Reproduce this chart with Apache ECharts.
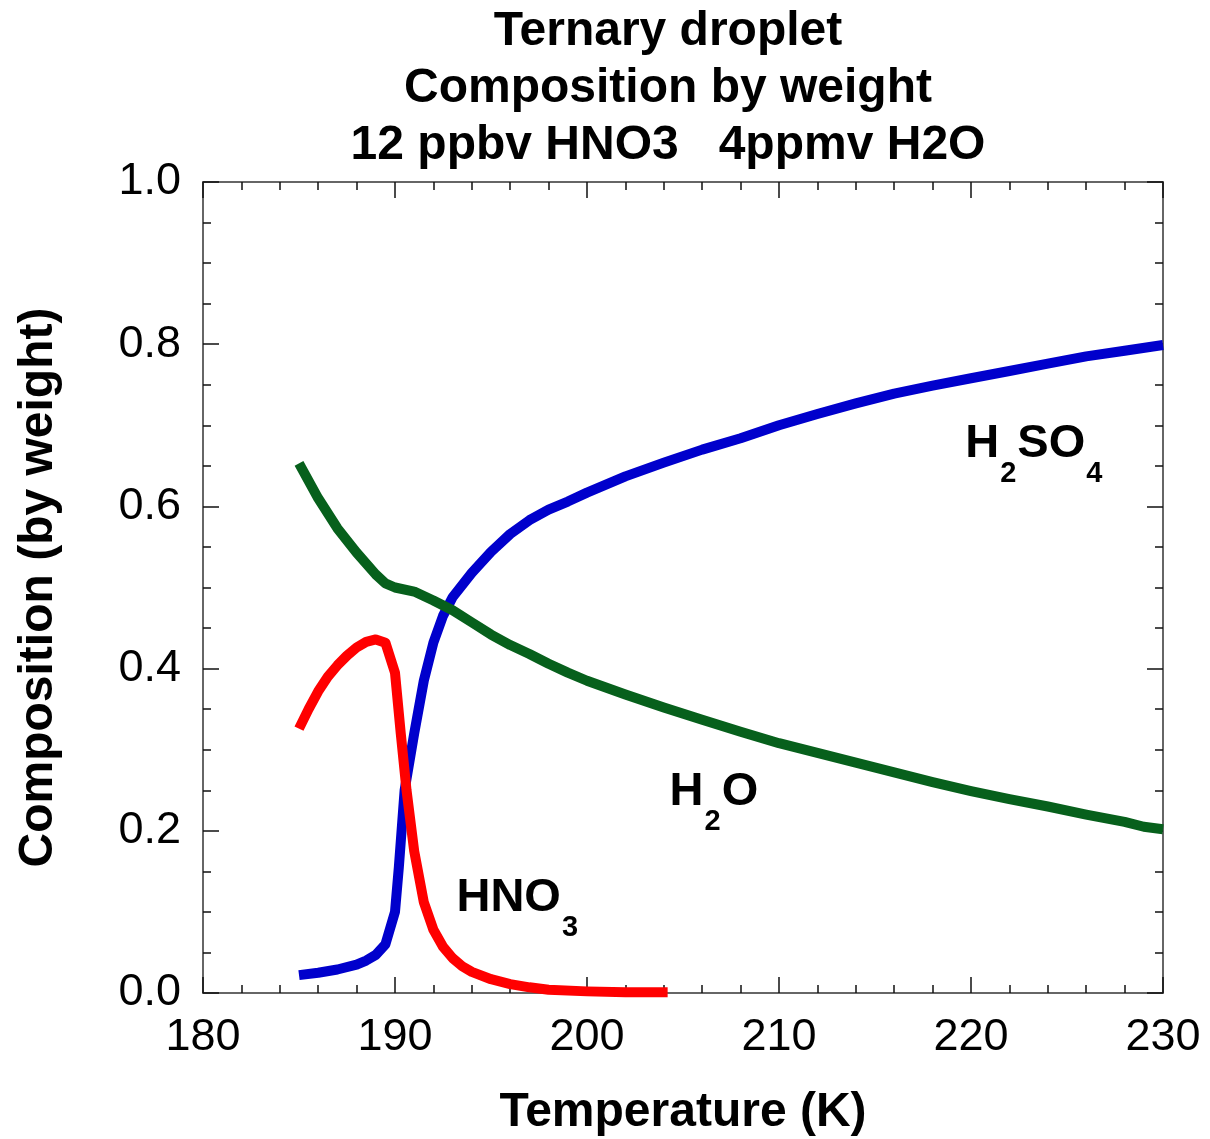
<!DOCTYPE html>
<html>
<head>
<meta charset="utf-8">
<title>Ternary droplet</title>
<script src="https://cdn.jsdelivr.net/npm/echarts@6.0.0/dist/echarts.min.js"></script>
<style>
  html, body { margin: 0; padding: 0; background: #fff; }
  #chart { width: 1210px; height: 1139px; }
</style>
</head>
<body>
<div id="chart"></div>
<script>
// values: temperature (K) -> weight fraction
var tempH2SO4 = [185, 186, 187, 188, 188.5, 189, 189.5, 190, 190.2, 190.5, 191, 191.5, 192, 192.5, 193,
  194, 195, 196, 197, 198, 199, 200, 202, 204, 206, 208, 210, 212, 214, 216, 218, 220, 222, 224, 226, 228, 230];
var h2so4 = [0.022, 0.025, 0.029, 0.035, 0.040, 0.047, 0.060, 0.100, 0.155, 0.250, 0.320, 0.385, 0.432, 0.465, 0.488,
  0.518, 0.544, 0.566, 0.583, 0.596, 0.606, 0.617, 0.637, 0.654, 0.670, 0.684, 0.700, 0.714, 0.727, 0.739, 0.749,
  0.758, 0.767, 0.776, 0.785, 0.792, 0.799];

var tempH2O = [185, 186, 187, 188, 189, 189.5, 190, 191, 192, 193, 194, 195, 196, 197, 198, 199, 200,
  202, 204, 206, 208, 210, 212, 214, 216, 218, 220, 222, 224, 226, 228, 229, 230];
var h2o = [0.653, 0.610, 0.573, 0.543, 0.516, 0.505, 0.500, 0.495, 0.484, 0.472, 0.457, 0.442, 0.429, 0.418, 0.406,
  0.395, 0.385, 0.368, 0.352, 0.337, 0.322, 0.308, 0.296, 0.284, 0.272, 0.260, 0.249, 0.239, 0.230, 0.220, 0.211,
  0.205, 0.202];

var tempHNO3 = [185, 185.5, 186, 186.5, 187, 187.5, 188, 188.5, 189, 189.5, 190, 190.3, 190.6, 191, 191.5, 192,
  192.5, 193, 193.5, 194, 195, 196, 197, 198, 200, 202, 204.2];
var hno3 = [0.326, 0.350, 0.372, 0.390, 0.404, 0.416, 0.426, 0.433, 0.436, 0.432, 0.395, 0.320, 0.250, 0.175,
  0.112, 0.078, 0.057, 0.043, 0.033, 0.026, 0.017, 0.011, 0.007, 0.004, 0.002, 0.001, 0.001];

var xRange = [180, 230];
var yRange = [0, 1];

var FONT = "'Liberation Sans', Arial, Helvetica, sans-serif";

function pairs(xs, ys) {
  return xs.map(function (x, i) { return [x, ys[i]]; });
}

// one frame side: ticks point inwards, labels only on bottom / left
function frameAxis(pos, range, step, minorSplit, labelled) {
  return {
    type: 'value',
    position: pos,
    min: range[0],
    max: range[1],
    interval: step,
    axisLine: { show: true, onZero: false, lineStyle: { color: '#666', width: 2 } },
    axisTick: { show: true, inside: true, length: 16, lineStyle: { color: '#111', width: 1.5 } },
    minorTick: { show: true, splitNumber: minorSplit, length: 8, lineStyle: { color: '#111', width: 1.5 } },
    splitLine: { show: false },
    axisLabel: { show: labelled }
  };
}

var chart = echarts.init(document.getElementById('chart'));

var xBottom = frameAxis('bottom', xRange, 10, 5, true);
xBottom.axisLabel = { fontSize: 45, color: '#000', fontFamily: FONT, margin: 22 };
xBottom.name = 'Temperature (K)';
xBottom.nameLocation = 'middle';
xBottom.nameGap = 96;
xBottom.nameTextStyle = { fontSize: 48, fontWeight: 'bold', color: '#000', fontFamily: FONT };

var yLeft = frameAxis('left', yRange, 0.2, 4, true);
yLeft.axisLabel = {
  fontSize: 45, color: '#000', fontFamily: FONT, margin: 22,
  formatter: function (v) { return v.toFixed(1); }
};
yLeft.name = 'Composition (by weight)';
yLeft.nameLocation = 'middle';
yLeft.nameGap = 140;
yLeft.nameTextStyle = { fontSize: 48, fontWeight: 'bold', color: '#000', fontFamily: FONT };

function lineSeries(name, data, color) {
  return {
    name: name,
    type: 'line',
    data: data,
    symbol: 'none',
    showSymbol: false,
    clip: false,
    xAxisIndex: 0,
    yAxisIndex: 0,
    lineStyle: { width: 10, color: color, cap: 'butt', join: 'round' }
  };
}

chart.setOption({
  animation: false,
  backgroundColor: '#fff',
  grid: { left: 203, right: 47, top: 182, bottom: 146, outerBoundsMode: 'none' },
  xAxis: [xBottom, frameAxis('top', xRange, 10, 5, false)],
  yAxis: [yLeft, frameAxis('right', yRange, 0.2, 4, false)],
  series: [
    lineSeries('H2SO4', pairs(tempH2SO4, h2so4), '#0000cc'),
    lineSeries('H2O', pairs(tempH2O, h2o), '#07601c'),
    lineSeries('HNO3', pairs(tempHNO3, hno3), '#ff0000')
  ]
});

// chemical labels with subscripts, anchored in data space (left edge, baseline)
var MAIN_SIZE = 47, SUB_SIZE = 29, SUB_DROP = 25;
var ctx = document.createElement('canvas').getContext('2d');

function chemLabel(parts, T, v) {
  var p = chart.convertToPixel({ gridIndex: 0 }, [T, v]);
  var x = p[0];
  var out = [];
  parts.forEach(function (s, i) {
    var sub = i % 2 === 1;
    var size = sub ? SUB_SIZE : MAIN_SIZE;
    var font = 'bold ' + size + 'px ' + FONT;
    var base = sub ? p[1] + SUB_DROP : p[1];
    out.push({
      type: 'text', silent: true,
      x: x, y: base + Math.round(size * 0.21),
      style: { text: s, font: font, fill: '#000', textAlign: 'left', textVerticalAlign: 'bottom' }
    });
    ctx.font = font;
    x += ctx.measureText(s).width + 1;
  });
  return out;
}

var graphics = [{
  type: 'text', silent: true,
  x: 668, y: 3,
  style: {
    text: 'Ternary droplet\nComposition by weight\n12 ppbv HNO3   4ppmv H2O',
    font: 'bold 48px ' + FONT, fill: '#000',
    textAlign: 'center', textVerticalAlign: 'top', lineHeight: 57
  }
}];
graphics = graphics
  .concat(chemLabel(['H', '2', 'SO', '4'], 219.7, 0.66))
  .concat(chemLabel(['H', '2', 'O'], 204.3, 0.231))
  .concat(chemLabel(['HNO', '3'], 193.2, 0.100));

chart.setOption({ graphic: graphics });
</script>
</body>
</html>
